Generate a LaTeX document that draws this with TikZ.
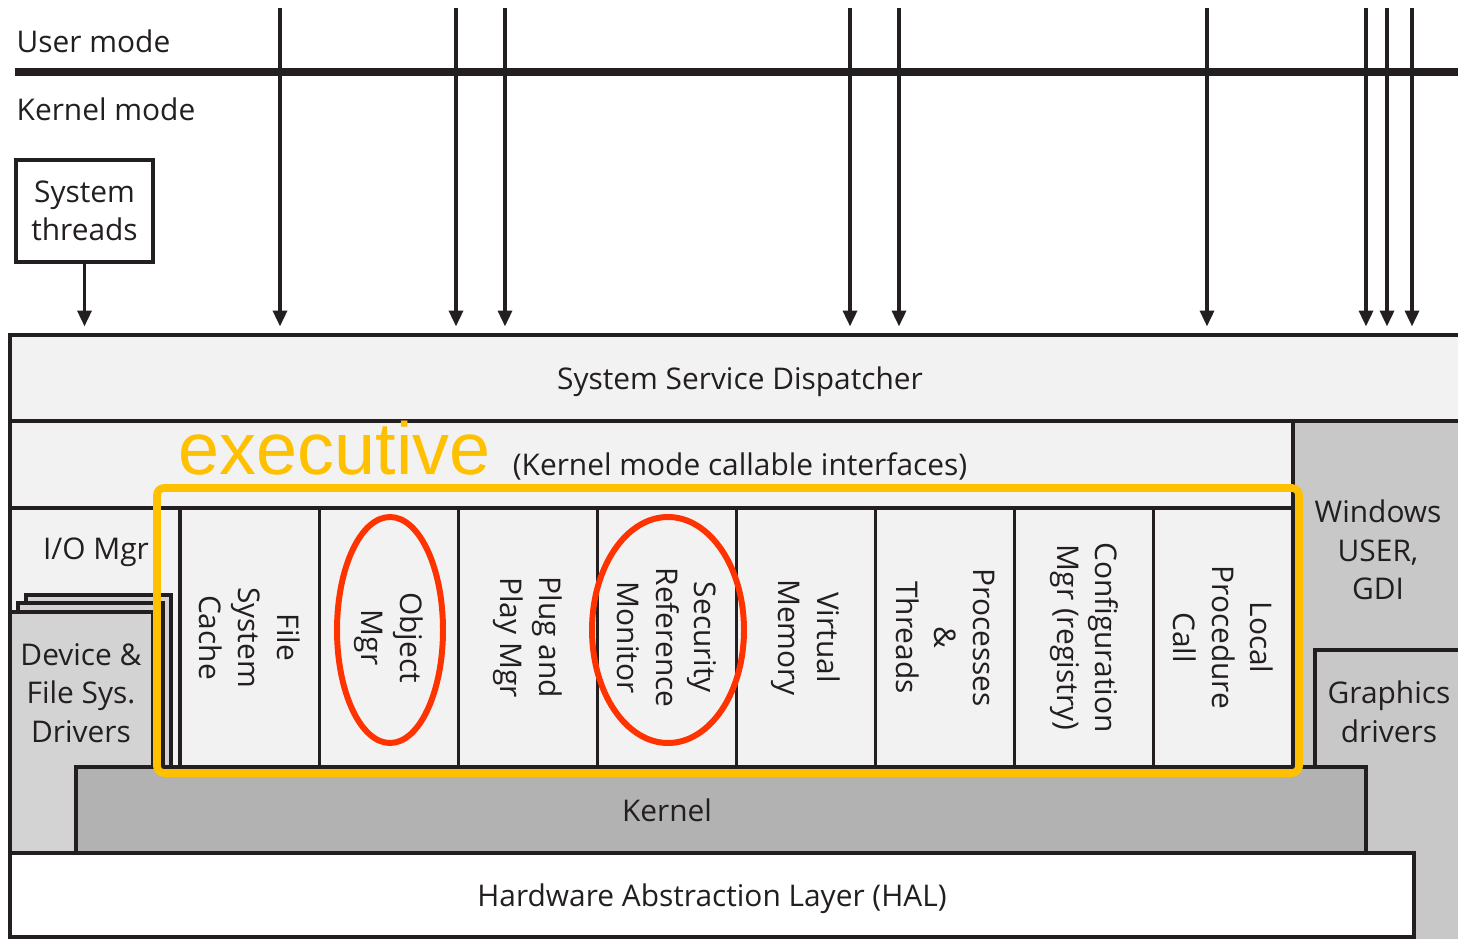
\documentclass[tikz,border=0pt]{standalone}
\usepackage{fontspec}
\setmainfont{Open Sans}
\newfontfamily\execfont{Liberation Sans}
\usetikzlibrary{arrows.meta, positioning}

\definecolor{paneGray}{HTML}{F2F2F2}
\definecolor{winGray}{HTML}{C8C8C8}
\definecolor{drvGray}{HTML}{D3D3D3}
\definecolor{kernGray}{HTML}{B3B2B3}
\definecolor{execYellow}{HTML}{FFC000}
\definecolor{ringRed}{HTML}{FF3300}
\definecolor{lineDark}{HTML}{231F20}

\tikzset{
  every node/.style={font=\fontsize{8.5}{11}\selectfont, text=lineDark},
  layer/.style={draw=lineDark, line width=0.9pt, fill=#1},
  band/.style={text height=6.8pt, text depth=0pt, inner sep=0pt},
  execcol/.style={layer=paneGray, rotate=-90, align=center, inner sep=0pt,
    minimum width=2.59cm, minimum height=1.39125cm},
  call/.style={draw=lineDark, line width=0.9pt, -{Triangle[length=4.5pt,width=4pt]}},
  ring/.style={draw=ringRed, line width=1.7pt},
}

\begin{document}
\begin{tikzpicture}[x=1cm, y=-1cm]
        \useasboundingbox (0,0) rectangle (14.58,9.39);

        % Windows USER/GDI and graphics drivers on the right
        \path[layer=winGray] (12.93,4.21) rectangle (14.70,9.50);
        \path[layer=winGray] (13.15,6.50) rectangle (14.70,9.50);
        \node[align=center] (win) at (13.78,5.50) {Windows\\USER,\\GDI};
        \node[align=center] (gfx) at (13.89,7.12) {Graphics\\drivers};

        % Dispatcher and callable interfaces
        \node[layer=paneGray, band, minimum width=14.60cm, minimum height=0.86cm] (ssd) at (7.40,3.78) {System Service Dispatcher};
        \path[layer=paneGray] (0.10,4.21) rectangle (12.93,5.08);
        \node (kmci) at (7.40,4.66) {(Kernel mode callable interfaces)};

        % I/O manager and the driver stack
        \path[layer=paneGray] (0.10,5.08) rectangle (1.80,8.53);
        \node (iomgr) at (0.96,5.52) {I/O Mgr};
        \path[layer=drvGray] (0.26,5.95) rectangle (1.71,7.67);
        \path[layer=drvGray] (0.18,6.03) rectangle (1.63,7.67);
        \path[layer=drvGray] (0.10,6.12) rectangle (1.53,8.53);
        \node[align=center] (drivers) at (0.81,6.93) {Device \&\\File Sys.\\Drivers};

        % Executive components
        \foreach \i/\name/\txt in {0/fsc/{File\\System\\Cache}, 1/obj/{Object\\Mgr},
            2/pnp/{Plug and\\Play Mgr}, 3/srm/{Security\\Reference\\Monitor},
            4/vmm/{Virtual\\Memory}, 5/proc/{Processes\\\&\\Threads},
            6/cfg/{Configuration\\Mgr (registry)}, 7/lpc/{Local\\Procedure\\Call}}
            \node[execcol] (\name) at ({2.4956+1.39125*\i},6.375) {\txt};

        % Kernel and HAL
        \path[layer=kernGray] (0.76,7.67) rectangle (13.66,8.53);
        \node (kernel) at (6.67,8.10) {Kernel};
        \node[layer=white, band, minimum width=14.04cm, minimum height=0.84cm] (hal) at (7.12,8.95) {Hardware Abstraction Layer (HAL)};

        % Highlights
        \draw[execYellow, line width=2.2pt, rounded corners=2pt] (1.57,4.88) rectangle (12.99,7.73);
        \node[anchor=base west, inner sep=0pt, text=execYellow, font=\execfont\fontsize{21}{21}\selectfont] (exec) at (1.78,4.75) {executive};
        \draw[ring] (3.90,6.30) ellipse [x radius=0.53, y radius=1.13];
        \draw[ring] (6.68,6.30) ellipse [x radius=0.76, y radius=1.13];

        % User / kernel boundary
        \node[anchor=base west, inner sep=0pt] (umode) at (0.16,0.53) {User mode};
        \node[anchor=base west, inner sep=0pt] (kmode) at (0.16,1.21) {Kernel mode};
        \coordinate (modeL) at (0.15,0.72);
        \coordinate (modeR) at (14.58,0.72);
        \draw[lineDark, line width=2pt] (modeL) -- (modeR);

        % System calls
        \node[layer=white, align=center, minimum width=1.37cm, minimum height=1.02cm, inner sep=0pt] (threads) at (0.845,2.11) {System\\threads};
        \draw[call, shorten >=2pt] (threads.south) -- (threads.south |- ssd.north);
        \foreach \x [count=\n] in {2.80,4.56,5.05,8.50,8.99,12.07,13.66,13.87,14.12} {
            \coordinate (sys\n) at (\x,0.08);
            \draw[call, shorten >=2pt] (sys\n) -- (sys\n |- ssd.north);
        }
    \end{tikzpicture}
\end{document}
